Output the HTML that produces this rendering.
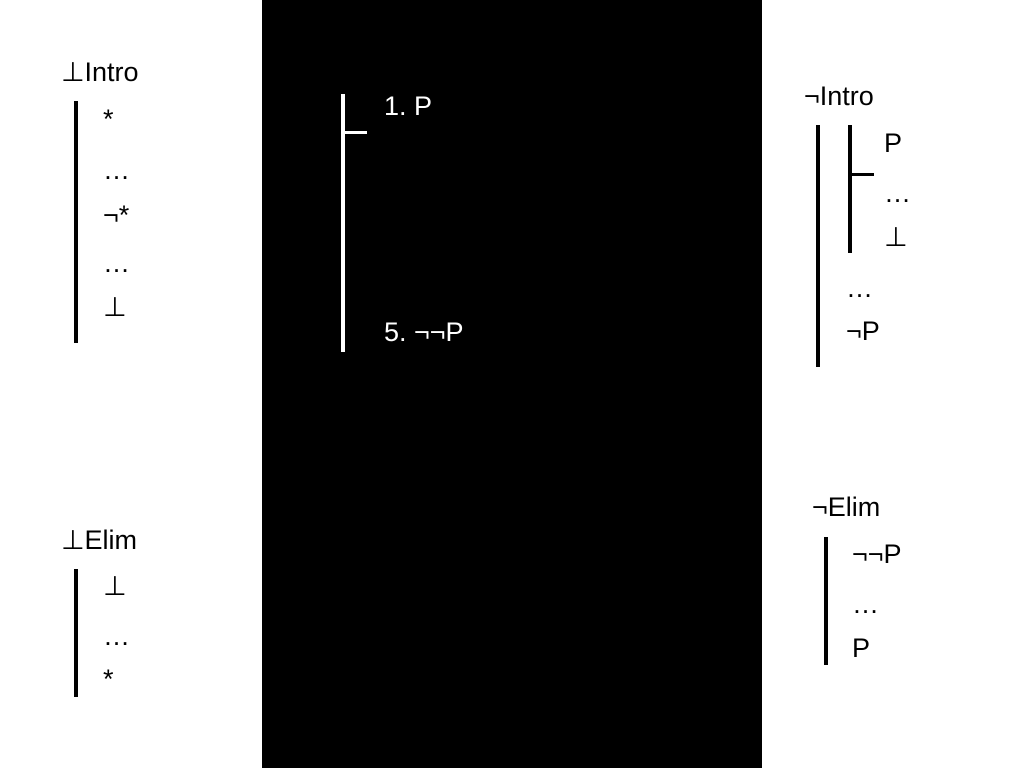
<!DOCTYPE html>
<html><head><meta charset="utf-8"><style>
html,body{margin:0;padding:0}
body{width:1024px;height:768px;position:relative;background:#fff;overflow:hidden;font-family:"Liberation Sans","DejaVu Sans",sans-serif}
.t{position:absolute;font-size:27px;line-height:30px;height:30px;white-space:nowrap;color:#000}
.w{color:#fff}
.b{position:absolute;background:#000}
.bw{position:absolute;background:#fff}
#dark{position:absolute;left:262px;top:0;width:500px;height:768px;background:#000}
</style></head><body>
<div id="dark"></div>

<div class="t" style="left:61px;top:57px">⊥Intro</div>
<div class="b" style="left:74px;top:101px;width:4px;height:242px"></div>
<div class="t" style="left:103px;top:104px">*</div>
<div class="t" style="left:103px;top:155px">…</div>
<div class="t" style="left:103px;top:200px">¬*</div>
<div class="t" style="left:103px;top:248px">…</div>
<div class="t" style="left:103px;top:292px">⊥</div>

<div class="t" style="left:61px;top:525px">⊥Elim</div>
<div class="b" style="left:74px;top:569px;width:4px;height:128px"></div>
<div class="t" style="left:103px;top:571px">⊥</div>
<div class="t" style="left:103px;top:621px">…</div>
<div class="t" style="left:103px;top:664px">*</div>

<div class="bw" style="left:341px;top:94px;width:4px;height:258px"></div>
<div class="bw" style="left:345px;top:131px;width:22px;height:3px"></div>
<div class="t w" style="left:384px;top:91px">1. P</div>
<div class="t w" style="left:384px;top:317px">5. ¬¬P</div>

<div class="t" style="left:804px;top:81px">¬Intro</div>
<div class="b" style="left:816px;top:125px;width:4px;height:242px"></div>
<div class="b" style="left:848px;top:125px;width:4px;height:128px"></div>
<div class="b" style="left:852px;top:173px;width:22px;height:3px"></div>
<div class="t" style="left:884px;top:128px">P</div>
<div class="t" style="left:884px;top:178px">…</div>
<div class="t" style="left:884px;top:222px">⊥</div>
<div class="t" style="left:846px;top:273px">…</div>
<div class="t" style="left:846px;top:316px">¬P</div>

<div class="t" style="left:812px;top:492px">¬Elim</div>
<div class="b" style="left:824px;top:537px;width:4px;height:128px"></div>
<div class="t" style="left:852px;top:539px">¬¬P</div>
<div class="t" style="left:852px;top:589px">…</div>
<div class="t" style="left:852px;top:633px">P</div>
</body></html>
